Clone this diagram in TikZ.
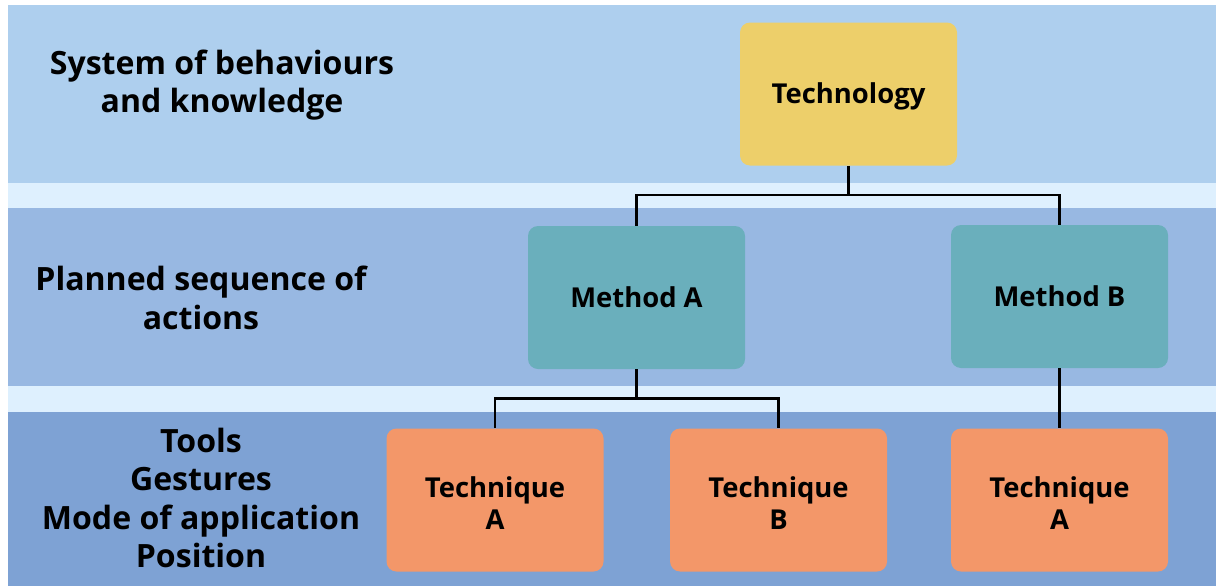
\documentclass[tikz,border=0pt]{standalone}
\usepackage{fontspec}
\setmainfont{Open Sans}
\usetikzlibrary{positioning,calc}
\definecolor{band_top}{HTML}{AECFEE}
\definecolor{band_mid}{HTML}{98B8E2}
\definecolor{band_low}{HTML}{7EA2D4}
\definecolor{band_gap}{HTML}{DEF0FE}
\definecolor{tech_fill}{HTML}{EDCF6A}
\definecolor{method_fill}{HTML}{6AAFBC}
\definecolor{tq_fill}{HTML}{F39769}
\tikzset{
  box/.style={rounded corners=10*0.025cm, minimum width=217*0.025cm,
    minimum height=143*0.025cm, align=center, inner sep=0pt,
    font=\fontsize{19.5}{22.8}\selectfont\bfseries},
  techbox/.style={box, fill=tech_fill, text height=17.5pt},
  methodbox/.style={box, fill=method_fill},
  tqbox/.style={box, fill=tq_fill, text height=42pt},
  levellabel/.style={align=center, inner sep=0pt,
    font=\fontsize{22.8}{27.4}\selectfont\bfseries},
  link/.style={line width=1.8pt, black},
}
\begin{document}
\begin{tikzpicture}[x=0.025cm, y=-0.025cm]
    % background bands
    \useasboundingbox (0,0) rectangle (1216,586);
    \fill[white] (0,0) rectangle (1216,586);
    \fill[band_gap] (8,5) rectangle (1216,586);
    \fill[band_top] (8,5) rectangle (1216,183);
    \fill[band_mid] (8,208) rectangle (1216,386);
    \fill[band_low] (8,412) rectangle (1216,586);
    % level labels
    \node[levellabel] (lbl_system) at (222,85) {System of behaviours\\and knowledge};
    \node[levellabel] (lbl_plan) at (201,298) {Planned sequence of\\actions};
    \node[levellabel] (lbl_tools) at (201,498) {Tools\\Gestures\\Mode of application\\Position};
    % boxes
    \node[techbox] (tech) at (848.5,94) {Technology};
    \node[methodbox] (method_a) at (636.5,297.5) {Method A};
    \node[methodbox] (method_b) at (1059.5,296.5) {Method B};
    \node[tqbox] (tq_a) at (495,500) {Technique\\A};
    \node[tqbox, right=66*0.025cm of tq_a] (tq_b) {Technique\\B};
    \node[tqbox] (tq_c) at (1059.5,500) {Technique\\A};
    % connectors
    \coordinate (tech_split) at ($(tech.south)+(0,29)$);
    \coordinate (method_split) at ($(method_a.south)+(0,29)$);
    \draw[link] (tech.south) -- (tech_split);
    \draw[link] (method_a.north) |- (tech_split) -| (method_b.north);
    \draw[link] (method_a.south) -- (method_split);
    \draw[link] (tq_a.north) |- (method_split) -| (tq_b.north);
    \draw[link] (method_b.south) -- (tq_c.north);
\end{tikzpicture}
\end{document}
